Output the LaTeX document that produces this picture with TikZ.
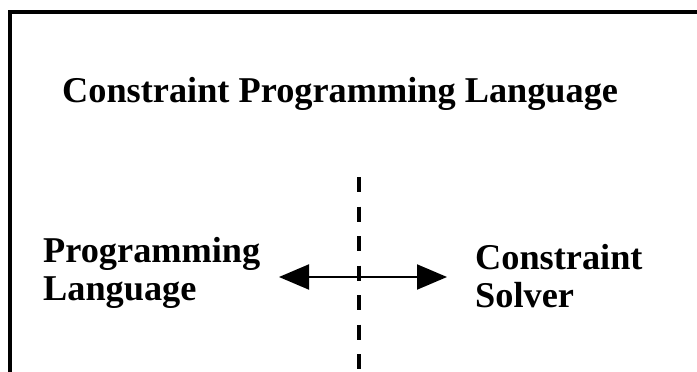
\documentclass[tikz,border=0pt]{standalone}
\usepackage{fontspec}
\setmainfont{Liberation Serif}
\usetikzlibrary{arrows.meta}
\begin{document}
\begin{tikzpicture}[x=1pt,y=-1pt,
  lbl/.style={anchor=base west,inner sep=0pt,font=\fontsize{36.3}{36}\selectfont\bfseries},
  frame/.style={line width=4pt},
  divider/.style={line width=4pt,dash pattern=on 15pt off 14.5pt},
  link/.style={line width=2pt,{Triangle[length=30pt,width=25pt]}-{Triangle[length=30pt,width=25pt]}}]
\useasboundingbox[fill=white] (0,0) rectangle (697,372);
\coordinate (fbl) at (10,380);
\coordinate (ftl) at (10,11.5);
\coordinate (ftr) at (705,11.5);
\draw[frame] (fbl) -- (ftl) -- (ftr);
\node[lbl] (title) at (62,102) {Constraint Programming Language};
\node[lbl] (pl1) at (43,262) {Programming};
\node[lbl] (pl2) at (43,300) {Language};
\node[lbl] (cs1) at (475,269) {Constraint};
\node[lbl] (cs2) at (475,307) {Solver};
\coordinate (dtop) at (359,177);
\coordinate (dbot) at (359,380);
\draw[divider] (dtop) -- (dbot);
\coordinate (aleft) at (279,277);
\coordinate (aright) at (447,277);
\draw[link] (aleft) -- (aright);
\end{tikzpicture}
\end{document}
